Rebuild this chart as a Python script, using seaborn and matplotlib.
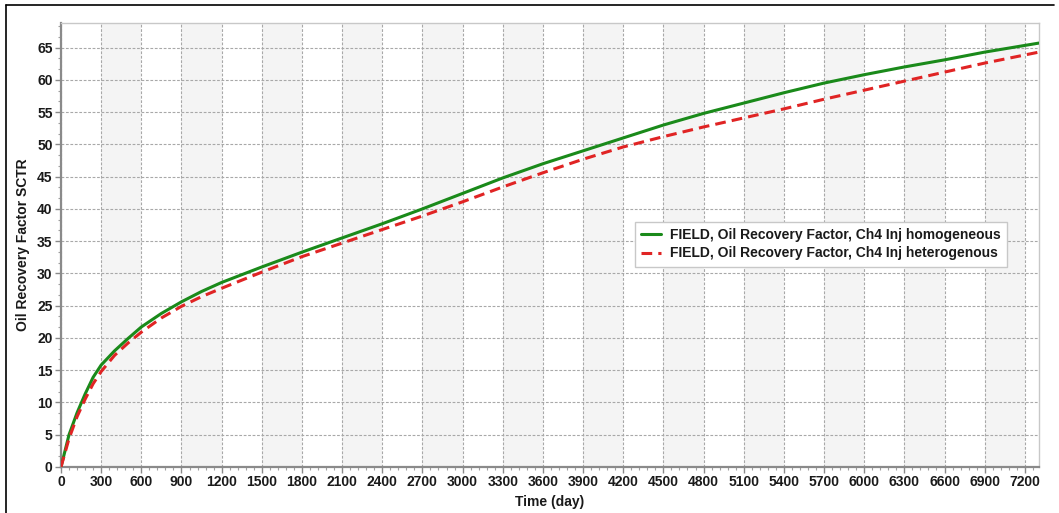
import numpy as np
import pandas as pd
import matplotlib
matplotlib.use("Agg")
import matplotlib.pyplot as plt
from matplotlib.lines import Line2D
from matplotlib.ticker import MultipleLocator, AutoMinorLocator
import seaborn as sns

# Simulation output: time in days, oil recovery factor in %
time_day = [0, 60, 120, 180, 240, 300, 400, 500, 600, 750, 900, 1050, 1200,
            1500, 1800, 2100, 2400, 2700, 3000, 3300, 3600, 3900, 4200, 4500,
            4800, 5100, 5400, 5700, 6000, 6300, 6600, 6900, 7305]
rf_homogeneous = [0, 5.0, 8.4, 11.3, 13.9, 15.8, 18.0, 19.9, 21.7, 23.8,
                  25.6, 27.2, 28.6, 31.0, 33.3, 35.5, 37.7, 40.0, 42.4, 44.8,
                  47.0, 49.0, 51.0, 53.0, 54.8, 56.4, 58.0, 59.5, 60.8, 62.0,
                  63.1, 64.3, 65.7]
rf_heterogeneous = [0, 4.4, 7.8, 10.5, 12.9, 14.8, 17.3, 19.2, 20.9, 23.1,
                    24.9, 26.4, 27.7, 30.2, 32.6, 34.7, 36.8, 38.9, 41.1, 43.4,
                    45.6, 47.7, 49.6, 51.2, 52.7, 54.1, 55.5, 57.0, 58.4, 59.8,
                    61.2, 62.6, 64.3]
label_homogeneous = "FIELD, Oil Recovery Factor, Ch4 Inj homogeneous"
label_heterogeneous = "FIELD, Oil Recovery Factor, Ch4 Inj heterogenous"

sns.set_theme(style="white")
plt.rcParams["font.family"] = ["Liberation Sans", "DejaVu Sans"]

fig = plt.figure(figsize=(10.59, 5.13), dpi=100)
ax = fig.add_axes([0.0576, 0.0897, 0.9234, 0.8653])

xmax, ymax = 7305, 68.8

# alternating shaded columns between major x ticks
for start in range(300, 7200, 600):
    ax.axvspan(start, start + 300, color="#f4f4f4", zorder=0, lw=0)

ax.grid(True, which="major", color="#a8a8a8", linestyle=(0, (2.5, 1.5)),
        linewidth=0.8, zorder=1)

sns.lineplot(x=time_day, y=rf_homogeneous, ax=ax, color="#1a8a1a",
             linewidth=2.2, label=label_homogeneous, zorder=3)
sns.lineplot(x=time_day, y=rf_heterogeneous, ax=ax, color="#e02424",
             linewidth=2.2, linestyle=(0, (3.5, 2.0)),
             label=label_heterogeneous, zorder=3)

ax.set_xlim(0, xmax)
ax.set_ylim(0, ymax)
ax.xaxis.set_major_locator(MultipleLocator(300))
ax.xaxis.set_minor_locator(MultipleLocator(60))
ax.yaxis.set_major_locator(MultipleLocator(5))
ax.yaxis.set_minor_locator(AutoMinorLocator(3))

for side in ("left", "bottom"):
    ax.spines[side].set_color("#8a8a8a")
    ax.spines[side].set_linewidth(1.6)
for side in ("top", "right"):
    ax.spines[side].set_color("#c8c8c8")
    ax.spines[side].set_linewidth(1.0)

ax.tick_params(axis="both", which="major", direction="out", length=4,
               width=1.0, color="#8a8a8a", labelsize=10, pad=2,
               bottom=True, left=True)
ax.tick_params(axis="both", which="minor", direction="out", length=2.5,
               width=0.8, color="#a0a0a0", bottom=True, left=True)
for lab in ax.get_xticklabels() + ax.get_yticklabels():
    lab.set_fontweight("bold")
    lab.set_color("#1a1a1a")

ax.set_xlabel("Time (day)", fontsize=10, fontweight="bold", color="#1a1a1a",
              labelpad=4)
ax.set_ylabel("Oil Recovery Factor SCTR", fontsize=10, fontweight="bold",
              color="#1a1a1a", labelpad=5)

leg = ax.legend(loc="upper left", bbox_to_anchor=(0.587, 0.552),
                borderaxespad=0.0, frameon=True, fancybox=False,
                framealpha=1.0, edgecolor="#c8c8c8", handlelength=1.4,
                handletextpad=0.7, borderpad=0.45, labelspacing=0.3,
                prop={"weight": "bold", "size": 10})
leg.get_frame().set_linewidth(1.0)
for txt in leg.get_texts():
    txt.set_color("#1a1a1a")

# thin frame lines along the top and left edges of the figure
fig.add_artist(Line2D([6 / 1059, 1054 / 1059], [1 - 5 / 513, 1 - 5 / 513],
                      transform=fig.transFigure, color="black", lw=1.2))
fig.add_artist(Line2D([6 / 1059, 6 / 1059], [0, 1 - 5 / 513],
                      transform=fig.transFigure, color="black", lw=1.2))

fig.savefig("out.png", dpi=100, facecolor="white")
